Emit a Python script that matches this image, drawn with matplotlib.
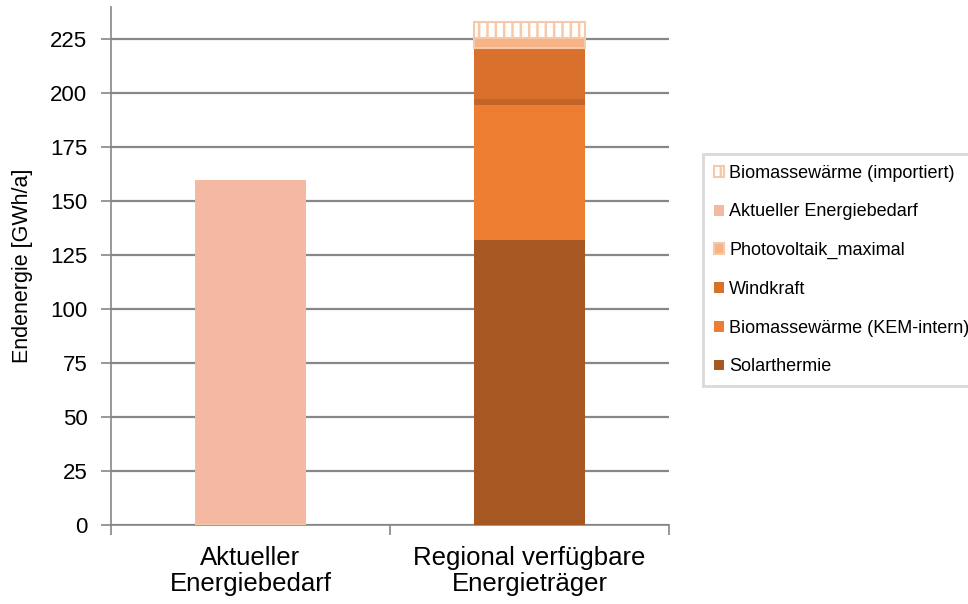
import matplotlib
matplotlib.use("Agg")
import matplotlib.pyplot as plt
import numpy as np

plt.rcParams['font.family'] = ['Liberation Sans', 'DejaVu Sans']
plt.rcParams['hatch.linewidth'] = 1.8

categories = ["Aktueller\nEnergiebedarf", "Regional verfügbare\nEnergieträger"]

# stacked series (bottom to top) for the second bar
solarthermie = [0, 132.0]
biomasse_kem = [0, 62.5]
photovoltaik = [0, 3.1]
windkraft = [0, 23.6]
photovoltaik_max = [0, 4.4]
biomasse_import = [0, 7.4]
aktueller_bedarf = [160.0, 0]

yticks = [0, 25, 50, 75, 100, 125, 150, 175, 200, 225]

fig = plt.figure(figsize=(9.68, 6.04), dpi=100)
ax = fig.add_axes([111/968, 1-525/604, (669-111)/968, (525-7)/604])

x = np.arange(len(categories))
w = 0.4
bottom = np.zeros(len(categories))

ax.bar(x, aktueller_bedarf, w, color='#F4B8A3', label='Aktueller Energiebedarf', zorder=3)

series = [
    (solarthermie, dict(color='#A65722'), 'Solarthermie'),
    (biomasse_kem, dict(color='#ED7D31'), 'Biomassewärme (KEM-intern)'),
    (photovoltaik, dict(color='#C3652B'), '_nolegend_'),
    (windkraft, dict(color='#D9712D'), 'Windkraft'),
    (photovoltaik_max, dict(facecolor='#F5B387', edgecolor='#F8C9A9', linewidth=1.5), 'Photovoltaik_maximal'),
    (biomasse_import, dict(facecolor='white', edgecolor='#F8C9A9', hatch='||', linewidth=1.5), 'Biomassewärme (importiert)'),
]
for vals, style, lab in series:
    vals = np.array(vals)
    ax.bar(x, vals, w, bottom=bottom, label=lab, zorder=3, **style)
    bottom = bottom + vals

ax.set_xlim(-0.5, 1.5)
ax.set_ylim(0, 240)
ax.set_yticks(yticks)
ax.set_xticks(x)
ax.set_xticklabels(categories, fontsize=18.5, linespacing=1.1)
ax.tick_params(axis='x', length=0, pad=15)
ax.set_xticks([-0.5, 0.5, 1.5], minor=True)
ax.tick_params(axis='x', which='minor', length=7, color='#868686', width=1.2)
ax.tick_params(axis='y', labelsize=16, length=7, color='#868686', width=1.2, pad=10)
ax.set_ylabel('Endenergie [GWh/a]', fontsize=15.5)
ax.yaxis.set_label_coords((33-111)/558, 0.5)
ax.yaxis.grid(True, color='#888888', linewidth=1.6, zorder=0)
ax.set_axisbelow(True)
for s in ['top', 'right']:
    ax.spines[s].set_visible(False)
for s in ['left', 'bottom']:
    ax.spines[s].set_color('#868686')
    ax.spines[s].set_linewidth(1.2)

order = ['Biomassewärme (importiert)', 'Aktueller Energiebedarf', 'Photovoltaik_maximal',
         'Windkraft', 'Biomassewärme (KEM-intern)', 'Solarthermie']
hl, ll = ax.get_legend_handles_labels()
m = dict(zip(ll, hl))
leg = fig.legend([m[o] for o in order], order, loc='upper left',
                 bbox_to_anchor=(703/968, 1-154/604), fontsize=13,
                 frameon=True, fancybox=False, edgecolor='#D0D0D0',
                 handlelength=0.55, handleheight=0.55, handletextpad=0.3,
                 labelspacing=1.2, borderpad=0.6, borderaxespad=0)
leg.get_frame().set_linewidth(2)

fig.savefig('out.png', dpi=100)
